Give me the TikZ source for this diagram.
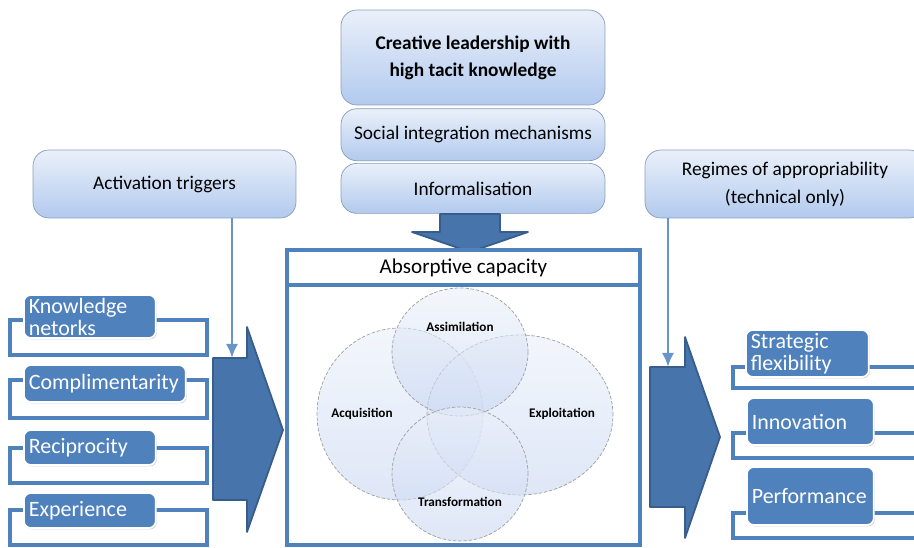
\documentclass[tikz,border=0pt]{standalone}
\usepackage{fontspec}
\setmainfont{Carlito}
\usepackage{xcolor}
\usepackage{tikz}
\usetikzlibrary{arrows.meta,positioning,shadows}

\definecolor{acblue}{HTML}{4F81BD}
\definecolor{acdark}{HTML}{385D8A}
\definecolor{acpale}{HTML}{EAF0FA}
\definecolor{acmid}{HTML}{B2CAEE}
\definecolor{acven}{HTML}{C9D7F2}

\begin{document}
\begin{tikzpicture}[
  x=0.02cm, y=-0.02cm,
  softbox/.style={draw=acdark!60, rounded corners=9pt, top color=acpale, bottom color=acmid, align=center, font=\fontsize{11}{16}\selectfont},
  factor/.style={draw=white, line width=1pt, rounded corners=4pt, fill=acblue, text=white, align=left, anchor=west, inner xsep=0.1cm, inner ysep=0pt, font=\fontsize{12.5}{12.5}\selectfont, drop shadow={shadow xshift=0.6pt, shadow yshift=-0.8pt, opacity=0.35}},
  bracket/.style={draw=acblue, line width=2pt},
  frame/.style={draw=acblue, line width=1.8pt},
  bigarrow/.style={fill=acblue!90!black, draw=acdark, line width=1pt, line join=round},
  venn/.style={draw=gray!75, dash pattern=on 2pt off 1pt, line width=0.4pt, top color=acpale, bottom color=acven, fill opacity=0.6},
  vlabel/.style={font=\fontsize{7.5}{9}\selectfont\bfseries},
  arr/.style={-{Latex[length=8pt,width=7pt]}, draw=acblue!85, line width=1.5pt}
]
\useasboundingbox (0,0) rectangle (914,548);
\clip (0,0) rectangle (914,548);

% top stack
\node[softbox, minimum width=5.28cm, minimum height=1.9cm, font=\fontsize{11}{15.4}\selectfont\bfseries] (lead) at (473,57.5) {Creative leadership with\\high tacit knowledge};
\node[softbox, minimum width=5.28cm, minimum height=1.04cm, below=0.06cm of lead] (soc) {Social integration mechanisms};
\node[softbox, minimum width=5.28cm, minimum height=1.0cm, below=0.04cm of soc] (inf) {Informalisation};
\draw[bigarrow] (440,214) -- (500,214) -- (500,232) -- (528,232) -- (470,252) -- (412,232) -- (440,232) -- cycle;

% side boxes
\node[softbox, minimum width=5.26cm, minimum height=1.36cm] (trig) at (164.5,184) {Activation triggers};
\node[softbox, minimum width=5.6cm, minimum height=1.36cm] (regime) at (785,184) {Regimes of appropriability\\(technical only)};

% absorptive capacity
\node[frame, minimum width=7.06cm, minimum height=5.2cm] (abs) at (463.5,415) {};
\node[frame, fill=white, minimum width=7.06cm, minimum height=0.7cm, font=\fontsize{12}{14}\selectfont] (abstitle) at (463.5,267.5) {Absorptive capacity};
\path[venn] (400,414) ellipse [x radius=1.66cm, y radius=1.72cm];
\path[venn] (520,415) ellipse [x radius=1.86cm, y radius=1.6cm];
\path[venn] (460,352) ellipse [x radius=1.36cm, y radius=1.28cm];
\path[venn] (460,474) ellipse [x radius=1.36cm, y radius=1.34cm];
\node[vlabel] (acq) at (362,414) {Acquisition};
\node[vlabel] (ass) at (460,327) {Assimilation};
\node[vlabel] (exl) at (562,414) {Exploitation};
\node[vlabel] (trf) at (460,502) {Transformation};

% big arrows
\draw[bigarrow] (213,358) -- (247,358) -- (247,327) -- (283,430) -- (247,532) -- (247,500) -- (213,500) -- cycle;
\draw[bigarrow] (650,367) -- (685,367) -- (685,337) -- (720,437) -- (685,538) -- (685,507) -- (650,507) -- cycle;
\coordinate (inL) at (232,358);
\coordinate (inR) at (668,367);

% left factors
\draw[bracket] (10,320) rectangle (207,355);
\draw[bracket] (10,380) rectangle (207,418);
\draw[bracket] (10,448) rectangle (207,483);
\draw[bracket] (10,510) rectangle (207,545);
\node[factor, text width=2.44cm, minimum height=0.86cm] (know) at (23,316.5) {Knowledge\\netorks};
\node[factor, text width=3.04cm, minimum height=0.74cm] (compl) at (23,383.5) {Complimentarity};
\node[factor, text width=2.44cm, minimum height=0.7cm] (recip) at (23,447.5) {Reciprocity};
\node[factor, text width=2.44cm, minimum height=0.7cm] (exper) at (23,510.5) {Experience};

% right outcomes
\draw[bracket] (733,367) rectangle (930,388);
\draw[bracket] (733,433) rectangle (930,458);
\draw[bracket] (733,513) rectangle (930,538);
\node[factor, text width=2.26cm, minimum height=0.94cm] (flex) at (745,353.5) {Strategic\\flexibility};
\node[factor, text width=2.34cm, minimum height=0.94cm] (innov) at (746,421.5) {Innovation};
\node[factor, text width=2.34cm, minimum height=1.16cm] (perf) at (746,496) {Performance};

\draw[arr] (trig.south -| inL) -- (inL);
\draw[arr] (regime.south -| inR) -- (inR);
\end{tikzpicture}
\end{document}
